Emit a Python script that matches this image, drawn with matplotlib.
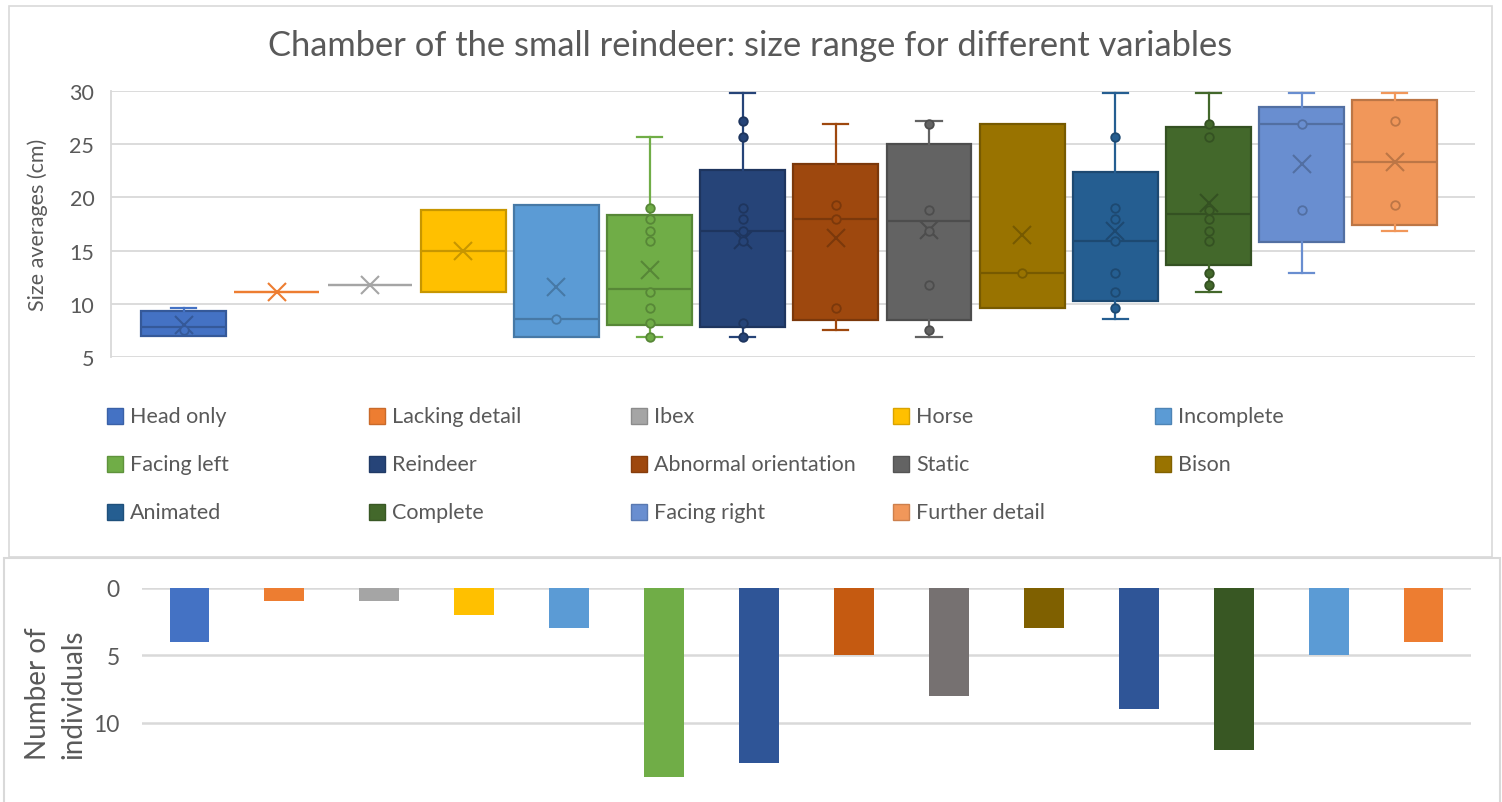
import numpy as np
import matplotlib.pyplot as plt
import matplotlib.colors as mcolors
from matplotlib.patches import Rectangle

plt.rcParams['font.family'] = ['Lato', 'DejaVu Sans']

# Categories and colours
nombres = ["Head only", "Lacking detail", "Ibex", "Horse", "Incomplete",
           "Facing left", "Reindeer", "Abnormal orientation", "Static", "Bison",
           "Animated", "Complete", "Facing right", "Further detail"]
colores = ["#4472C4", "#ED7D31", "#A5A5A5", "#FFC000", "#5B9BD5",
           "#70AD47", "#264478", "#9E480E", "#636363", "#997300",
           "#255E91", "#43682B", "#698ED0", "#F1975A"]
colores_barras = ["#4472C4", "#ED7D31", "#A5A5A5", "#FFC000", "#5B9BD5",
                  "#70AD47", "#2F5597", "#C55A11", "#767171", "#7F6000",
                  "#2F5597", "#385723", "#5B9BD5", "#ED7D31"]

# Box statistics (cm)
q1 = [7.0, 11.1, 11.8, 11.1, 6.9, 8.0, 7.8, 8.5, 8.5, 9.6, 10.3, 13.6, 15.8, 17.4]
mediana = [7.8, 11.1, 11.8, 15.0, 8.6, 11.4, 16.8, 18.0, 17.8, 12.9, 15.9, 18.4, 26.9, 23.3]
q3 = [9.3, 11.1, 11.8, 18.8, 19.3, 18.3, 22.6, 23.1, 25.0, 26.9, 22.4, 26.6, 28.5, 29.2]
bigote_min = [7.0, 11.1, 11.8, 11.1, 6.9, 6.9, 6.9, 7.5, 6.9, 9.6, 8.6, 11.1, 12.9, 16.8]
bigote_max = [9.6, 11.1, 11.8, 18.8, 19.3, 25.7, 29.8, 26.9, 27.2, 26.9, 29.8, 29.8, 29.8, 29.8]
media = [8.0, 11.1, 11.8, 15.0, 11.6, 13.2, 16.0, 16.2, 16.9, 16.5, 16.8, 19.5, 23.1, 23.3]

# Visible data points
puntos = [
    [7.5],
    [],
    [],
    [],
    [8.6],
    [6.9, 8.2, 9.6, 11.1, 15.9, 16.8, 18.0, 19.0],
    [6.9, 8.2, 15.9, 16.8, 18.0, 19.0, 25.7, 27.2],
    [9.6, 18.0, 19.3],
    [7.5, 11.8, 16.8, 18.8, 26.9],
    [12.9],
    [9.6, 11.1, 12.9, 15.9, 18.0, 19.0, 25.7],
    [11.8, 12.9, 15.9, 16.8, 18.0, 18.8, 25.7, 26.9],
    [18.8, 26.9],
    [19.3, 27.2],
]

# Number of individuals
individuos = [4, 1, 1, 2, 3, 14, 13, 5, 8, 3, 9, 12, 5, 4]

W, H = 1502, 803
gris_texto = "#595959"
gris_linea = "#D9D9D9"


def oscuro(c, f=0.78):
    r, g, b = mcolors.to_rgb(c)
    return (r * f, g * f, b * f)


def fx(px):
    return px / W


def fy(py):
    return 1 - py / H


fig = plt.figure(figsize=(W / 100, H / 100), dpi=100)

# chart borders
fig.patches.append(Rectangle((fx(9), fy(558)), fx(1492) - fx(9), fy(7) - fy(558),
                             transform=fig.transFigure, fill=False, ec=gris_linea, lw=1.2))
fig.patches.append(Rectangle((fx(4), fy(830)), fx(1500) - fx(4), fy(559) - fy(830),
                             transform=fig.transFigure, fill=False, ec=gris_linea, lw=1.5))

# ---- top: box plot ----
ax = fig.add_axes([fx(111), fy(358), fx(1475) - fx(111), fy(92) - fy(358)])
n = len(nombres)
pos = np.arange(n)
stats = []
for i in range(n):
    stats.append(dict(med=mediana[i], q1=q1[i], q3=q3[i], whislo=bigote_min[i],
                      whishi=bigote_max[i], mean=media[i], fliers=[]))
bp = ax.bxp(stats, positions=pos, widths=0.91, patch_artist=True, showmeans=True,
            showfliers=False, capwidths=0.27)
for i in range(n):
    c = colores[i]
    d = oscuro(c)
    bp['boxes'][i].set_facecolor(c)
    bp['boxes'][i].set_edgecolor(d if q3[i] > q1[i] else c)
    bp['boxes'][i].set_linewidth(1.6)
    bp['medians'][i].set_color(d if q3[i] > q1[i] else c)
    bp['medians'][i].set_linewidth(1.6)
    m = bp['means'][i]
    m.set_marker('x')
    m.set_markersize(13)
    m.set_markeredgecolor(d if q3[i] > q1[i] else c)
    m.set_markeredgewidth(1.5)
    for j in (2 * i, 2 * i + 1):
        bp['whiskers'][j].set_color(c)
        bp['whiskers'][j].set_linewidth(1.6)
        bp['caps'][j].set_color(c)
        bp['caps'][j].set_linewidth(1.6)
    if bigote_min[i] >= q1[i]:
        bp['whiskers'][2 * i].set_visible(False)
        bp['caps'][2 * i].set_visible(False)
    if bigote_max[i] <= q3[i]:
        bp['whiskers'][2 * i + 1].set_visible(False)
        bp['caps'][2 * i + 1].set_visible(False)
    if puntos[i]:
        ax.scatter([pos[i]] * len(puntos[i]), puntos[i], s=38, facecolor=c,
                   edgecolor=d, linewidth=1.3, zorder=5)

ax.set_xlim(-0.78, 13.86)
ax.set_ylim(5, 30)
ax.set_yticks([5, 10, 15, 20, 25, 30])
ax.set_xticks([])
ax.grid(axis='y', color=gris_linea, linewidth=1.3)
ax.set_axisbelow(True)
for s in ['top', 'right', 'bottom']:
    ax.spines[s].set_visible(False)
ax.spines['left'].set_color(gris_linea)
ax.spines['left'].set_linewidth(1.3)
ax.tick_params(axis='y', length=0, pad=12, labelsize=15.5, labelcolor=gris_texto)
fig.text(fx(38), fy(225), "Size averages (cm)", rotation=90, ha='center', va='center',
         fontsize=15.5, color=gris_texto)

fig.text(fx(750), fy(46), "Chamber of the small reindeer: size range for different variables",
         ha='center', va='center', fontsize=24.8, color=gris_texto)

# legend, laid out row by row
for i, nombre in enumerate(nombres):
    fila, col = i // 5, i % 5
    x0 = 107 + col * 262
    y0 = 417 + fila * 48
    fig.patches.append(Rectangle((fx(x0), fy(y0 + 8)), fx(16), 16 / H,
                                 transform=fig.transFigure, fc=colores[i],
                                 ec=oscuro(colores[i], 0.85), lw=1))
    fig.text(fx(x0 + 23), fy(y0), nombre, ha='left', va='center', fontsize=15.5,
             color=gris_texto)

# ---- bottom: bar chart ----
ax2 = fig.add_axes([fx(142), fy(791.2), fx(1471) - fx(142), fy(588.7) - fy(791.2)])
ax2.bar(pos, individuos, width=0.42, color=colores_barras, zorder=3)
ax2.set_xlim(-0.5, 13.5)
ax2.set_ylim(15, 0)
ax2.set_yticks([0, 5, 10])
ax2.set_xticks([])
ax2.grid(axis='y', color=gris_linea, linewidth=1.8)
for s in ax2.spines.values():
    s.set_visible(False)
ax2.tick_params(axis='y', length=0, pad=16, labelsize=16.5, labelcolor=gris_texto)
fig.text(fx(56), fy(694), "Number of\nindividuals", rotation=90, ha='center', va='center',
         fontsize=20, color=gris_texto, linespacing=1.45, multialignment='center')

fig.savefig("out.png", dpi=100)
